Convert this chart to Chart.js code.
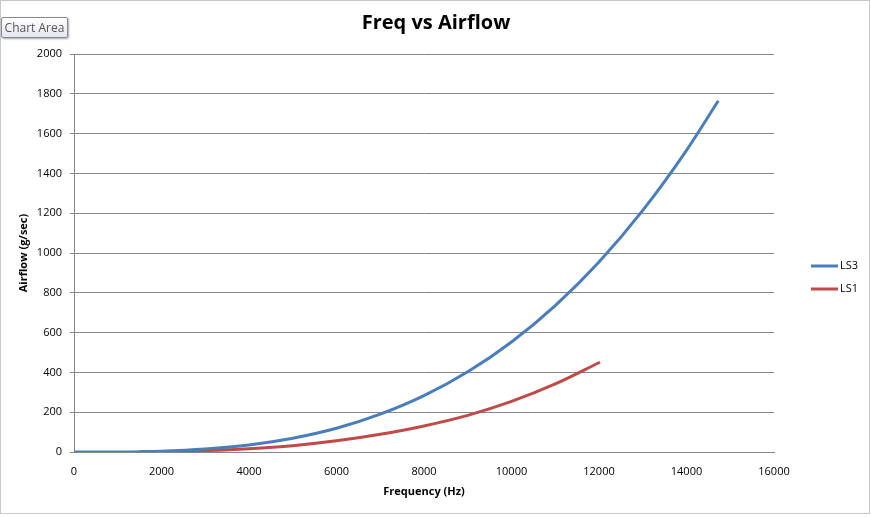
<!DOCTYPE html>
<html>
<head>
<meta charset="utf-8">
<script src="https://cdn.jsdelivr.net/npm/chart.js@4.4.1/dist/chart.umd.min.js"></script>
<style>
  body { margin: 0; background: #fff; }
  #wrap { position: relative; width: 871px; height: 517px; }
  #tip {
    position: absolute; left: 1px; top: 17px; width: 65px; height: 19px;
    border: 1px solid #8a8a8a; border-radius: 2px;
    background: linear-gradient(#ffffff, #e4e5f0);
    box-shadow: 1px 1px 2px rgba(0,0,0,0.35);
    font: 12px "Open Sans", sans-serif; color: #575757;
    line-height: 19px; text-align: center;
  }
</style>
</head>
<body>
<div id="wrap">
  <canvas id="canvas" width="871" height="517"></canvas>
  <div id="tip">Chart Area</div>
</div>
<script>
// values
var freqLS3 = [0, 1000, 2000, 3000, 4000, 5000, 6000, 7000, 8000, 9000, 10000, 11000, 12000, 13000, 14000, 14727];
var airLS3  = [0, 0.6, 4.4, 15, 35, 69, 119, 190, 283, 403, 553, 736, 955, 1214, 1516, 1765];
var freqLS1 = [1500, 2000, 3000, 4000, 5000, 6000, 7000, 8000, 9000, 10000, 11000, 12023];
var airLS1  = [0.9, 2.1, 7, 16.6, 32, 56, 89, 131, 184, 254, 342, 451];

var xTicks = [0, 2000, 4000, 6000, 8000, 10000, 12000, 14000, 16000];
var yTicks = [0, 200, 400, 600, 800, 1000, 1200, 1400, 1600, 1800, 2000];

var chartTitle = 'Freq vs Airflow';
var font = '"Open Sans", sans-serif';

function pts(xs, ys) {
  var out = [];
  for (var i = 0; i < xs.length; i++) out.push({x: xs[i], y: ys[i]});
  return out;
}

// title, legend + outer frame drawn by hand, Excel style
var excelBits = {
  id: 'excelBits',
  afterDraw: function(chart) {
    var ctx = chart.ctx;
    ctx.save();
    ctx.strokeStyle = '#c8c8c8';
    ctx.lineWidth = 1;
    ctx.strokeRect(0.5, 0.5, 869, 513);

    ctx.fillStyle = '#000';
    ctx.font = 'bold 20px ' + font;
    ctx.textAlign = 'center';
    ctx.textBaseline = 'middle';
    ctx.fillText(chartTitle, 436, 23);

    var ys = [266, 289];
    ctx.textAlign = 'left';
    chart.data.datasets.forEach(function(ds, i) {
      ctx.strokeStyle = ds.borderColor;
      ctx.lineWidth = 3;
      ctx.beginPath();
      ctx.moveTo(811, ys[i]);
      ctx.lineTo(838, ys[i]);
      ctx.stroke();
      ctx.fillStyle = '#000';
      ctx.font = '11px ' + font;
      ctx.fillText(ds.label, 840, ys[i]);
    });
    ctx.restore();
  }
};

function plain(v) { return String(v); }

var chart_config = {
  type: 'scatter',
  data: {
    datasets: [
      { label: 'LS3', data: pts(freqLS3, airLS3), borderColor: '#4a7ebb', backgroundColor: '#4a7ebb',
        showLine: true, pointRadius: 0, borderWidth: 3, cubicInterpolationMode: 'monotone' },
      { label: 'LS1', data: pts(freqLS1, airLS1), borderColor: '#be4b48', backgroundColor: '#be4b48',
        showLine: true, pointRadius: 0, borderWidth: 3, cubicInterpolationMode: 'monotone' }
    ]
  },
  options: {
    responsive: false,
    animation: false,
    layout: { padding: { left: 0, right: 97, top: 54, bottom: 0 } },
    plugins: {
      legend: { display: false },
      tooltip: { enabled: false },
      title: { display: false }
    },
    scales: {
      x: {
        type: 'linear', min: 0, max: 16000,
        afterFit: function(s) { s.height = 65; },
        afterBuildTicks: function(s) { s.ticks = xTicks.map(function(v) { return {value: v}; }); },
        grid: { display: false, drawTicks: false },
        border: { display: true, color: '#868686', width: 1 },
        ticks: { color: '#000', padding: 13, maxRotation: 0, callback: plain, font: { family: font, size: 11 } },
        title: { display: true, text: 'Frequency (Hz)', color: '#000',
                 font: { family: font, size: 11, weight: 'bold' }, padding: { top: 0, bottom: 19 } }
      },
      y: {
        type: 'linear', min: 0, max: 2000,
        afterFit: function(s) { s.width = 74; },
        afterBuildTicks: function(s) { s.ticks = yTicks.map(function(v) { return {value: v}; }); },
        grid: { color: '#868686', tickLength: 4, lineWidth: 1 },
        border: { display: true, color: '#868686', width: 1 },
        ticks: { color: '#000', padding: 8, callback: plain, font: { family: font, size: 11 } },
        title: { display: true, text: 'Airflow (g/sec)', color: '#000',
                 font: { family: font, size: 11, weight: 'bold' }, padding: { top: 17, bottom: 0 } }
      }
    }
  },
  plugins: [excelBits]
};

window.onload = function() {
  var ctx = document.getElementById('canvas').getContext('2d');
  window.myLine = new Chart(ctx, chart_config);
};
</script>
</body>
</html>
